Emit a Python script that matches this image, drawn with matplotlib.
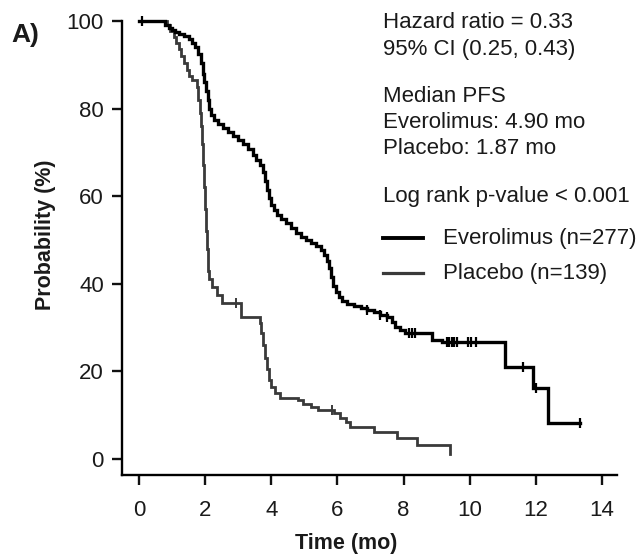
import matplotlib
matplotlib.use("Agg")
import matplotlib.pyplot as plt
from matplotlib.lines import Line2D

plt.rcParams['font.family'] = ['Liberation Sans', 'DejaVu Sans']

# ---- data (Kaplan-Meier step curves) ----
evero_t = [0, 0.8, 0.9, 1.0, 1.1, 1.2, 1.35, 1.5, 1.6, 1.7, 1.8, 1.87, 1.93, 1.98,
           2.03, 2.08, 2.12, 2.18, 2.28, 2.4, 2.55, 2.7, 2.85, 3.0, 3.15, 3.3, 3.45,
           3.55, 3.65, 3.75, 3.82, 3.88, 3.94, 4.0, 4.08, 4.18, 4.3, 4.45, 4.6, 4.75,
           4.9, 5.05, 5.2, 5.35, 5.5, 5.6, 5.68, 5.76, 5.82, 5.88, 5.95, 6.05, 6.15,
           6.3, 6.5, 6.7, 6.9, 7.1, 7.3, 7.5, 7.65, 7.75, 7.9, 8.05, 8.85, 9.15,
           11.07, 11.9, 12.37, 13.33]
evero_s = [100, 99, 98.5, 98, 97.5, 97, 96.6, 96, 95, 94, 92.5, 90.5, 88, 86,
           84, 82, 80, 78.5, 77.5, 76.5, 75.5, 74.7, 73.8, 72.8, 71.8, 70.8, 69.5,
           68.3, 67, 65.5, 63.5, 61.5, 59.5, 58, 56.8, 55.8, 54.8, 53.8, 52.8, 51.5,
           50.7, 50, 49.3, 48.5, 47.7, 46.5, 45.2, 43.5, 41.5, 39.5, 38.2, 37, 36,
           35.4, 35, 34.4, 34, 33.5, 32.9, 32.4, 31.2, 30, 29.4, 28.7, 27.2, 26.7,
           21, 16.2, 8.2, 8.2]
evero_cens_t = [0.08, 6.9, 7.3, 7.5, 8.15, 8.25, 8.35, 9.3, 9.38, 9.45, 9.52, 9.6,
                9.95, 10.05, 10.2, 11.6, 12.0, 13.33]
evero_cens_s = [100, 34, 32.9, 32.4, 28.7, 28.7, 28.7, 26.7, 26.7, 26.7, 26.7, 26.7,
                26.7, 26.7, 26.7, 21, 16.2, 8.2]

plac_t = [0, 0.85, 0.95, 1.05, 1.12, 1.2, 1.28, 1.36, 1.45, 1.52, 1.6, 1.75, 1.8,
          1.84, 1.87, 1.9, 1.93, 1.96, 1.99, 2.02, 2.05, 2.08, 2.12, 2.2, 2.35, 2.5,
          3.1, 3.65, 3.7, 3.76, 3.82, 3.88, 3.94, 4.0, 4.1, 4.25, 4.8, 4.95, 5.2,
          5.4, 5.9, 6.08, 6.25, 6.38, 7.1, 7.8, 8.4, 9.4, 9.4]
plac_s = [100, 99, 97.8, 96.3, 95, 93.5, 92, 90.5, 88.8, 87.5, 86.5, 85, 82,
          79, 76, 72, 67, 62, 57, 52, 48, 43, 41, 39.3, 37.5, 35.6,
          32.4, 31, 28.8, 26, 23, 20.5, 18, 16.5, 15, 13.9, 13.5, 12.5, 11.8,
          11.2, 10.5, 9.4, 8.3, 7.3, 6.2, 4.8, 3.2, 3.2, 1.0]
plac_cens_t = [2.95, 5.83]
plac_cens_s = [35.6, 11.2]

x_ticks = [0, 2, 4, 6, 8, 10, 12, 14]
y_ticks = [0, 20, 40, 60, 80, 100]

annot_lines = ["Hazard ratio = 0.33", "95% CI (0.25, 0.43)", "Median PFS",
               "Everolimus: 4.90 mo", "Placebo: 1.87 mo", "Log rank p-value < 0.001"]
legend_labels = ["Everolimus (n=277)", "Placebo (n=139)"]

# ---- figure ----
W, H = 644, 557
fig = plt.figure(figsize=(W / 100, H / 100), dpi=100)
ax = fig.add_axes([122 / W, 1 - 475 / H, 495 / W, 454 / H])

c_ev = "#000000"
c_pl = "#3a3a3a"
c_txt = "#1a1a1a"

ax.plot(evero_t, evero_s, drawstyle="steps-post", color=c_ev, lw=2.4,
        solid_joinstyle="miter", clip_on=False, zorder=3)
ax.plot(plac_t, plac_s, drawstyle="steps-post", color=c_pl, lw=2.0,
        solid_joinstyle="miter", clip_on=False, zorder=2)
ax.plot(evero_cens_t, evero_cens_s, ls="none", marker="|", ms=7, mew=1.6,
        color=c_ev, clip_on=False, zorder=4)
ax.plot(plac_cens_t, plac_cens_s, ls="none", marker="|", ms=7, mew=1.4,
        color=c_pl, clip_on=False, zorder=4)

ax.set_xlim(-0.51, 14.45)
ax.set_ylim(-3.7, 100)
ax.set_xticks(x_ticks)
ax.set_yticks(y_ticks)
for s in ["top", "right"]:
    ax.spines[s].set_visible(False)
for s in ["left", "bottom"]:
    ax.spines[s].set_linewidth(1.7)
ax.tick_params(axis="both", direction="out", length=7, width=1.7,
               labelsize=16, labelcolor=c_txt, color="#111111")
ax.tick_params(axis="x", pad=11)
ax.tick_params(axis="y", pad=6)

ax.set_xlabel("Time (mo)", fontsize=15.5, fontweight="bold", color=c_txt)
ax.xaxis.set_label_coords(0.4525, -0.150)
ax.xaxis.label.set_va("center")
ax.set_ylabel("Probability (%)", fontsize=15.5, fontweight="bold", color=c_txt)
ax.yaxis.set_label_coords(-0.155, 0.53)
ax.yaxis.label.set_va("center")

fig.text(25 / W, 1 - 35 / H, "A)", fontsize=19, fontweight="bold",
         ha="center", va="center", color=c_txt)

# annotation block (pixel y centers -> figure fraction)
ys_px = [23, 49, 96, 122, 149, 196]
for txt, ypx in zip(annot_lines, ys_px):
    fig.text(383 / W, 1 - ypx / H, txt, fontsize=16, ha="left", va="center",
             color=c_txt)

# legend
leg_y = [238, 273]
for lab, ypx, col, lw in zip(legend_labels, leg_y, [c_ev, c_pl], [2.8, 2.3]):
    fig.lines.append(Line2D([383 / W, 423 / W], [1 - ypx / H, 1 - ypx / H],
                            transform=fig.transFigure, color=col, lw=lw))
    fig.text(443 / W, 1 - ypx / H, lab, fontsize=16, ha="left", va="center",
             color=c_txt)

fig.savefig("out.png", dpi=100)
